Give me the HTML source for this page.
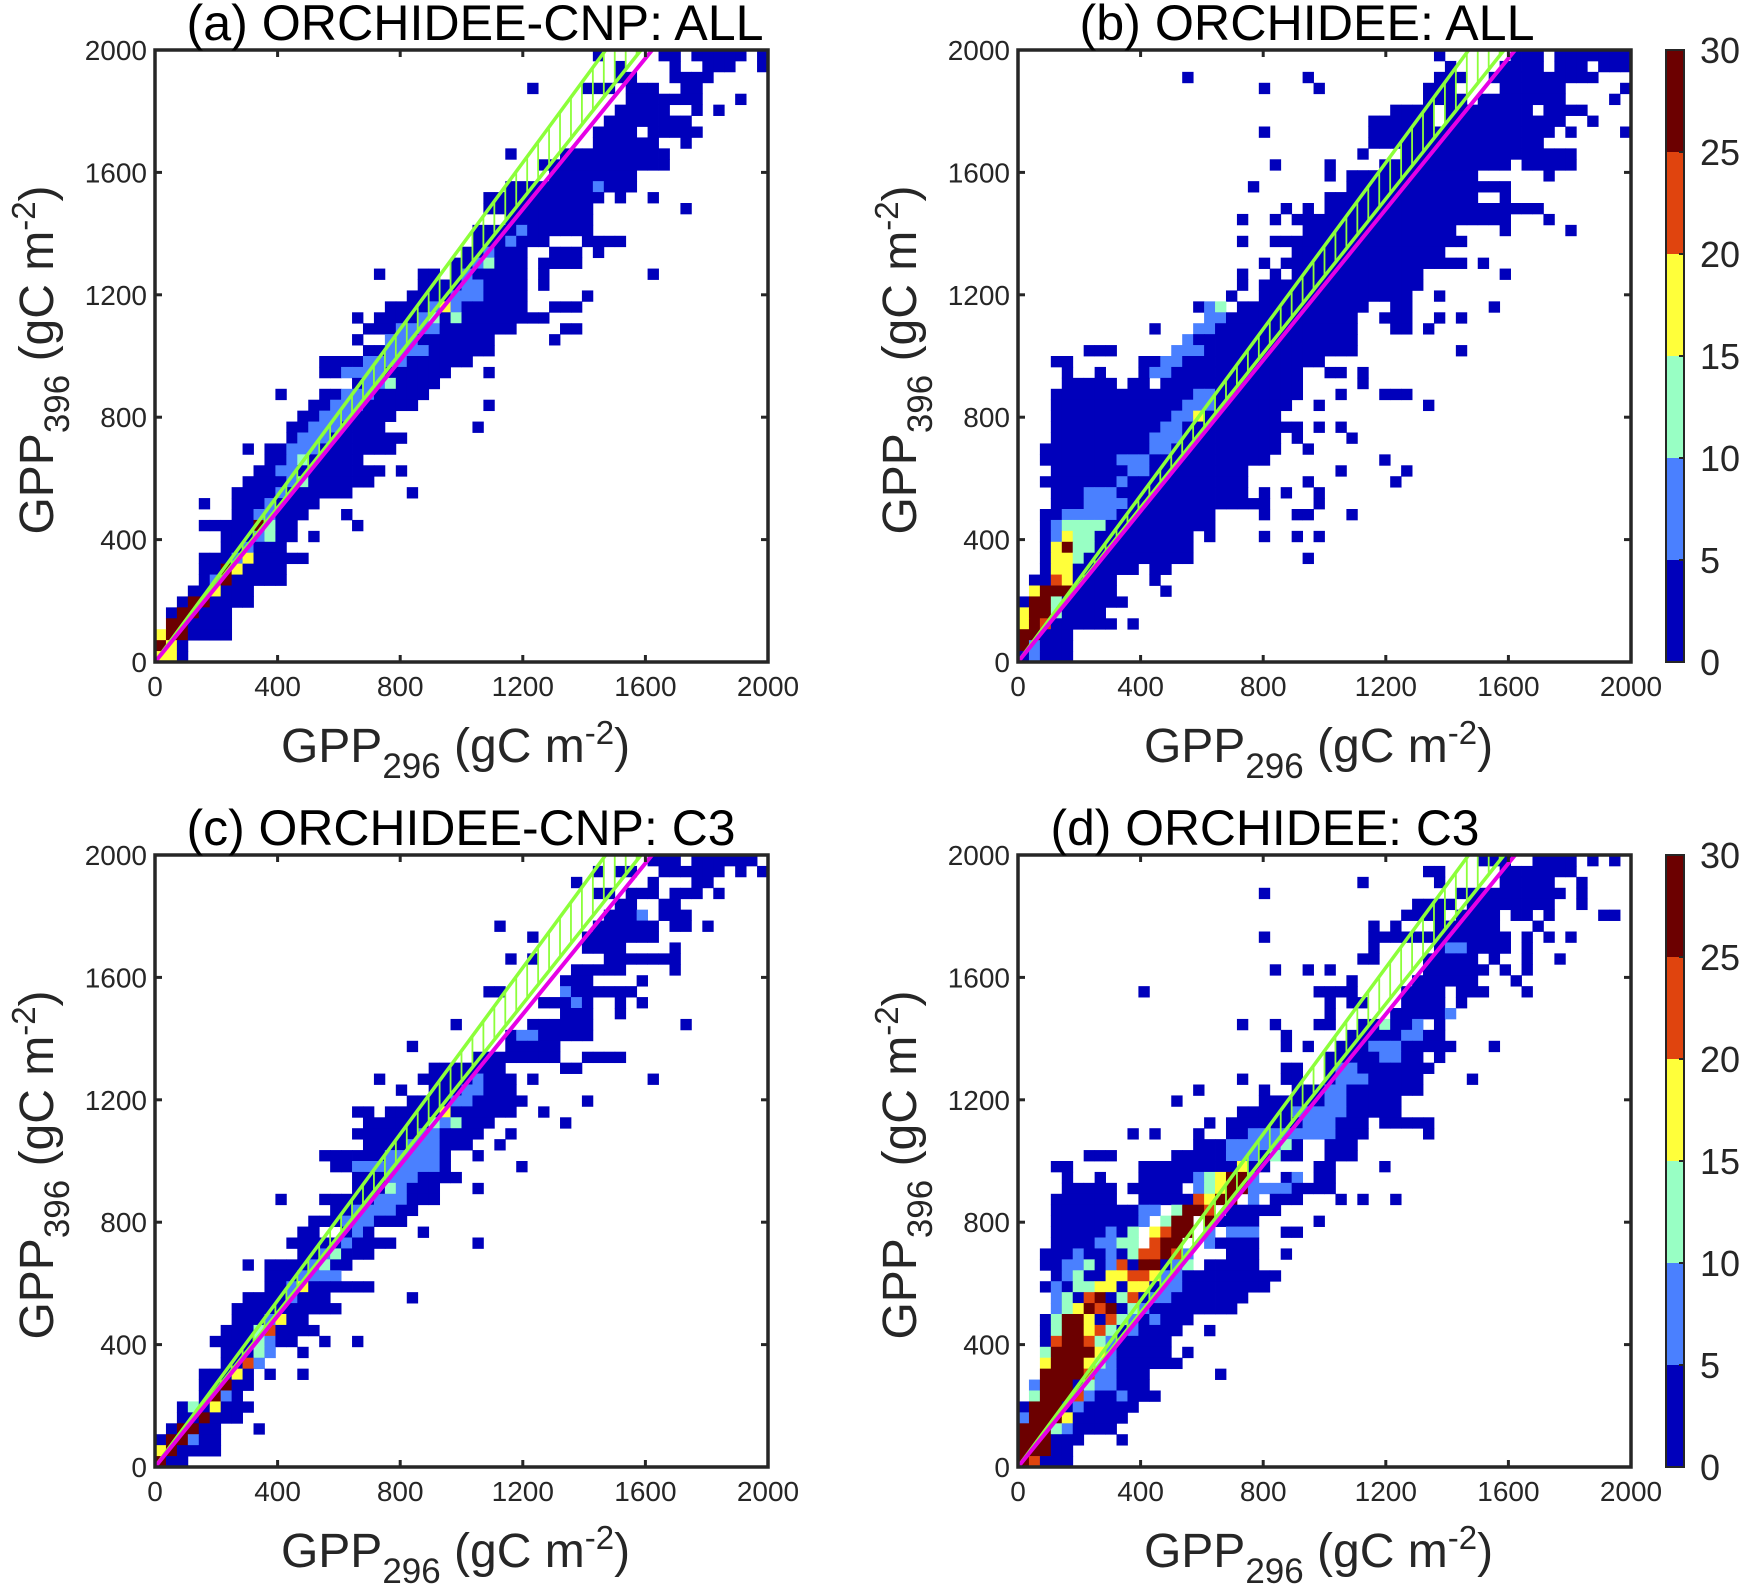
<!DOCTYPE html>
<html><head><meta charset="utf-8"><title>GPP scatter density</title>
<style>
html,body{margin:0;padding:0;background:#fff;}
svg{display:block;font-family:"Liberation Sans",Arial,sans-serif;}
</style></head>
<body>
<svg id="fig" width="1741" height="1591" viewBox="0 0 1741 1591" xmlns="http://www.w3.org/2000/svg"></svg>
<script>
// ---------- data ----------
const axisMax = 2000;
const nBins = 56;
const tickValues = [0, 400, 800, 1200, 1600, 2000];
const cbarTicks = [0, 5, 10, 15, 20, 25, 30];
const classColors = ['#ffffff', '#0000bb', '#4a80ff', '#98ffc4', '#ffff3a', '#e0440e', '#6c0000'];
const panelTitles = ['(a) ORCHIDEE-CNP: ALL', '(b) ORCHIDEE: ALL', '(c) ORCHIDEE-CNP: C3', '(d) ORCHIDEE: C3'];
// slope lines (GPP396 = slope * GPP296)
const magentaSlope = 1.233;
const greenLowSlope = 1.261;
const greenHighSlope = 1.36;

// rows from top (y=2000) to bottom; "start-end:class" segments (class 0-6)
const rowsA = [
"40:1,46-47:1,49-53:1,55:1","42:1,47:1,50-52:1,55:1","42-43:1,47-50:1","34:1,39-41:1,43-45:1,48-49:1",
"43-49:1,53:1","42-46:1,49:1,51:1","41-48:1","40-49:1,44:0","40-45:1,48:1","37-46:1,32:1",
"35-37:1,38-46:1","36-43:1","32-40:1,40:2,41-43:1","30-40:1,42:1,45:1","30-39:1,48:1","32-39:1",
"29-39:1,33:2","29-35:1,39-42:1,32:2","28-33:1,36-38:1,40:1,30:2","27-33:1,35-38:1,29:2,30:3",
"20:1,24-25:1,27-33:1,35:1,45:1,28:2","24-33:1,28-29:2,35:1","23-33:1,27-29:2,39:1","21-33:1,26:4,25:2,27:2,36:1,37-38:1",
"18:1,20-35:1,25:3,27:3,24:2","19-32:1,22-25:2,37-38:1","18:1,22-30:1,21-23:2,36:1","19-30:1,21-24:2",
"15-28:1,19-22:2","15-26:1,17-20:2,30:1","18-25:1,21:3,19-20:2","11:1,15-24:1,17-19:2",
"14-23:1,16-18:2,30:1","13-21:1,15-17:2","12-20:1,14-16:2,29:1","12-22:1,13-15:2",
"8:1,10-21:1,12-14:2","10-18:1,12:2,13:3","9-20:1,11-12:2,22:1","8-19:1,13:3,12:2",
"7-16:1,17:1,23:1,11:2","4:1,7-14:1,10:2","7-13:1,17:1,9-10:2","4-12:1,18:1,9:6,10:3",
"6-12:1,10:3,9:2,14:1","6-11:1,8:2","4-13:1,8:4,7:2","4-11:1,7:4,6:6",
"4-11:1,5:2,6:6","3-8:1,5:4","2-8:1,4:6,3:6","1-6:1,2-3:6",
"1-6:1,1-2:6","0-6:1,0:4,1-2:6","0-2:1,0:6,1:4","0-1:4,2:1"];

const rowsB = [
"38:1,45-47:1,49-55:1","39:1,44-47:1,49-55:1,52:0","15:1,26:1,38-40:1,43-51:1,52:1","22:1,27:1,37-39:1,44-49:1,55:1",
"37-40:1,42-49:1,54:1","34-37:1,39-51:1,47:0","32-37:1,39-49:1,52:1","22:1,32-35:1,36-48:1,50:1,55:1",
"32-34:1,35-47:1","31:1,35-50:1","23:1,28:1,33-44:1,46-50:1","28:1,30-41:1,48:1",
"21:1,30-44:1","28-41:1,44:1","24:1,26:1,28-47:1","20:1,23:1,25-44:1,48:1",
"26-39:1,44:1,50:1","20:1,23-25:1,26-40:1","25-38:1","22:1,24-40:1,42:1",
"20:1,23:1,25-36:1,44:1","20:1,22-36:1","19:1,22-35:1,38:1","16-18:1,20-31:1,34-35:1,43:1,17:2,18:3",
"17-30:1,33-35:1,38:1,40:1,17-18:2","12:1,16-30:1,34-35:1,37:1,16-17:2","16-30:1,15:2","6-8:1,14-30:1,40:1,14-16:2",
"3-4:1,11-27:1,13-14:2","4:1,7:1,11-25:1,28-29:1,31:1,12-13:2","4-8:1,10-25:1,31:1,12:0","3-25:1,29:1,33-35:1,16-17:2",
"3-24:1,27:1,37:1,15-17:2","3-23:1,14-15:2,16:4","3-23:1,24-25:1,27:1,29:1,13-14:2","3-23:1,25:1,30:1,12-14:2",
"2-23:1,26:1,12-13:2","2-22:1,9-11:2,33:1","3-20:1,10-11:2,29:1,35:1","2-20:1,9:2,26:1,34:1",
"3-20:1,6-8:2,22:1,24:1,27:1","3-20:1,6-9:2,21-22:1,27:1","2-17:1,4-8:2,22:1,25-26:1,30:1","2-17:1,3:2,4-7:3",
"2-15:1,3:2,4:4,5-6:3,17:1,22:1,25:1,27:1","2-15:1,3:4,4:6,5-6:3","2-15:1,3-4:4,5:3,26:1","2-10:1,3-4:4,12-13:1",
"1-8:1,3:5,4:4,12:1","1-8:1,1:4,2-4:6,13:1","0-8:1,1-2:6,3:3,9:1","0-7:1,0:4,1-2:6,3:3",
"0-8:1,0:4,1:6,2:5,10:1","0-4:1,0-1:6","0-4:1,0:6,1:2","0-4:1,1:2"];

const rowsC = [
"45-47:1,49-52:1,53-54:1","40:1,42-43:1,46-51:1,53:1,55:1","38:1,45:1,49-50:1","40-41:1,43-45:1,47-49:1,51:1",
"42-43:1,46-47:1","41-43:1,44:2,46:1,47-48:1","31:1,40-45:1,47-48:1,50:1","34:1,39-45:1",
"39-42:1,47:1","32:1,34:1,41-45:1,46-47:1","38-42:1,47:1","37-39:1,44:1",
"30-31:1,37-43:1,37:2","35-39:1,38:2,42:1,44:1","37-39:1,42:1","27:1,34-39:1,48:1",
"32-39:1,33-34:2","23:1,32-36:1","29-36:1,39-42:1","25-31:1,37-38:1",
"20:1,24-32:1,29:2,34:1,45:1","22:1,25-32:1,28-29:2","23-33:1,27-28:2,39:1","18-19:1,21-32:1,26:4,35:1",
"19-30:1,25:3,27:3,26:2,37:1","18-29:1,24-25:2,32:1","19-28:1,23-25:2,31:1","15-26:1,21-25:2,29:1",
"16-26:1,18-25:2,33:1","18-27:1,21-23:2","18-25:1,21:3,22:2,29:1","11:1,15-25:1,20-22:2",
"16-23:1,18-21:2","14-22:1,17-19:2","13-14:1,17-19:1,18:2,24:1","12-21:1,17:2,29:1",
"13-19:1,16:3,15:2","8:1,10-17:1,15:3,14:2","10-16:1,13-16:2","10-19:1,13:4,12:2",
"8-15:1,12:2,23:1","7-15:1,16:1","7-13:1,11:4,10:2","6-14:1,10:5,9:3",
"5-12:1,9:3,10:2,15:1,18:1","6-10:1,9:3,10:2,13:1","6-8:1,8:5,9:2","4-8:1,7:4,10:1,13:1",
"4-8:1,6:6","4-7:1,5:6,6:2","2-8:1,3:3,5:4","2-7:1,4:6",
"1-5:1,2-3:6,9:1","0-5:1,1:6,2:6,3:2","0-5:1,0:4,1:6","0-2:1,0:6"];

const rowsD = [
"42-44:1,47-50:1,52:1,54:1","37-38:1,44-50:1","31:1,38:1,44-48:1,51:1","22:1,40-43:1,44-49:1,51:1",
"36-39:1,41-48:1,51:1","35-38:1,40-43:1,45-46:1,48:1,53-54:1","32:1,34:1,38-43:1,47:1","22:1,32-43:1,44:1,46:1,48:1,50:1",
"32:1,38-41:1,39-40:2,42-44:1,46:1","31-32:1,37-41:1,43:1,46:1,49:1","23:1,26:1,28:1,37-41:1,42:1,44:1,46:1","30:1,36-41:1,45:1",
"11:1,27-30:1,35-38:1,40-42:1,46:1","28:1,30-31:1,35-38:1,40:1","28:1,34-38:1,39:2","20:1,23:1,27-28:1,31-32:1,33:3,34-36:1,36:2,38:1",
"24:1,30-38:1,35-36:2","24:1,26:1,29-38:1,32-34:2,39:1,43:1","28-36:1,33-34:2,38:1","24-25:1,28-37:1,29-30:2,36:1",
"20:1,24-25:1,28-36:1,29-31:2,41:1","16:1,22:1,25-36:1,28-29:2","14:1,22-34:1,28-29:2","20-34:1,25-29:2",
"17:1,19-31:1,26-28:2,33-37:1","10:1,12:1,16:1,19-31:1,21-28:2,37:1","16-25:1,19-24:2,24:3,28-30:1","6-8:1,14-25:1,19-21:2,23:3,28-30:1",
"3-4:1,11-14:1,15-22:1,20:4,27-28:1,33:1","4:1,7:1,11-17:1,16:2,17:3,18:4,19-20:6,21:2,24:1,25:2,27-28:1","4-8:1,10-14:1,16:2,17:3,18:4,19:6,20:6,21-24:2,25-28:1","3-8:1,11-15:1,16:5,17:4,18:6,19:6,21:2,23-25:1,29:1,31:1,34:1",
"3-11:1,11:2,12:2,14:3,15-16:6,17:5,19-23:1","3-10:1,11:2,13:3,14:6,15:6,17:6,18-21:1,27:1","3-10:1,8:2,10:3,12:4,13:5,14:6,15:6,17:2,19-21:2,24-25:1","3-10:1,7:2,8:2,9:3,10:3,12:5,13:6,14:6,17:2,18-21:1",
"2-10:1,5:2,8:2,10:3,11:5,12:5,13:6,14:5,15:2,19-21:1,24:1","2-15:1,4-5:2,6:3,8:2,9:5,11:6,12:6,14:2,15:3,17-21:1","3-23:1,4:2,5:3,8-9:4,10:5,11:5,12:4,13:2,14:2","2-22:1,3:2,5:3,6:3,7:4,8:4,10:4,11:4,13:2,14:2",
"3-20:1,3:2,4:3,6:5,7:6,9:3,10:5,12:2,13:2","3-19:1,3:2,4:3,5:4,6:6,7:5,8:6,10:3,11:2","2-15:1,3:3,4-5:6,6:4,8:5,9:3,10:2,12:2","2-14:1,3:3,4-5:6,6:4,7:5,8:3,10:2,17:1",
"2-13:1,3:5,4-5:6,6:5,7:3,8:2","2-13:1,2:3,3-5:6,6:6,7:4,8:2,15:1","2-14:1,2:4,3-5:6,6:4,7:3,8:2","2-11:1,2-5:6,6:5,7:2,8:2,18:1",
"1-11:1,1:2,2-4:6,6:3,7:2,8:2","1-12:1,1:3,2-4:6,5:5,6:2,9:2","0-10:1,1-3:6,5:2","0-9:1,0:2,1-3:6,4:4",
"0-8:1,0-2:6,3:3,4:2","0-5:1,0-2:6,9:1","0-4:1,0-2:6","0-4:1,0:6,1:5"];

const panelRows = [rowsA, rowsB, rowsC, rowsD];

// ---------- layout ----------
const SVGNS = 'http://www.w3.org/2000/svg';
const svg = document.getElementById('fig');
const panels = [
  {x: 155, y: 50, w: 613, h: 612},
  {x: 1018, y: 50, w: 613, h: 612},
  {x: 155, y: 855, w: 613, h: 612},
  {x: 1018, y: 855, w: 613, h: 612}
];
const titleLengths = [577, 455, 549, 429];
const titleCenters = [475, 1307, 461, 1265];
function mk(tag, attrs, parent) {
  const e = document.createElementNS(SVGNS, tag);
  for (const k in attrs) e.setAttribute(k, attrs[k]);
  (parent || svg).appendChild(e);
  return e;
}
function parseRow(str) {
  const cells = new Array(nBins).fill(0);
  if (!str) return cells;
  str.split(',').forEach(seg => {
    const [range, v] = seg.split(':');
    const parts = range.split('-').map(Number);
    const a = parts[0], b = parts.length > 1 ? parts[1] : parts[0];
    for (let c = a; c <= b; c++) if (c >= 0 && c < nBins) cells[c] = Number(v);
  });
  return cells;
}

panels.forEach((p, pi) => {
  const sx = v => p.x + v / axisMax * p.w;
  const sy = v => p.y + p.h - v / axisMax * p.h;
  const g = mk('g', {});
  
  
  const clipId = 'clip' + pi;
  const cp = mk('clipPath', {id: clipId}, g);
  mk('rect', {x: p.x, y: p.y, width: p.w, height: p.h}, cp);
  const plot = mk('g', {'clip-path': 'url(#' + clipId + ')'}, g);
  
  
  const binW = axisMax / nBins;
  panelRows[pi].forEach((rs, r) => {
    const cells = parseRow(rs);
    cells.forEach((v, c) => {
      if (!v) return;
      const x0 = sx(c * binW), x1 = sx((c + 1) * binW);
      const yTop = sy(axisMax - r * binW), yBot = sy(axisMax - (r + 1) * binW);
      const rect = mk('rect', {x: x0.toFixed(2), y: yTop.toFixed(2), width: (x1 - x0 + 0.4).toFixed(2), height: (yBot - yTop + 0.4).toFixed(2), fill: classColors[v]}, plot);
      
      
    });
  });
  // hatch between green lines
  for (let xv = binW; xv < axisMax; xv += binW) {
    const yl = xv * greenLowSlope, yh = xv * greenHighSlope;
    if (yl >= axisMax) break;
    const hl = mk('line', {x1: sx(xv), y1: sy(yl), x2: sx(xv), y2: sy(Math.min(yh, axisMax)), stroke: '#8cff3a', 'stroke-width': 1.8}, plot);
    
    
  }
  const gl1 = mk('line', {x1: sx(0), y1: sy(0), x2: sx(axisMax / greenHighSlope), y2: sy(axisMax), stroke: '#8cff3a', 'stroke-width': 3.5}, plot);
  
  
  const gl2 = mk('line', {x1: sx(0), y1: sy(0), x2: sx(axisMax / greenLowSlope), y2: sy(axisMax), stroke: '#8cff3a', 'stroke-width': 3.5}, plot);
  
  
  const ml = mk('line', {x1: sx(0), y1: sy(0), x2: sx(axisMax / magentaSlope), y2: sy(axisMax), stroke: '#e600e6', 'stroke-width': 4}, plot);
  
  
  // frame
  const fr = mk('rect', {x: p.x, y: p.y, width: p.w, height: p.h, fill: 'none', stroke: '#262626', 'stroke-width': 3.5}, g);
  
  
  // ticks
  tickValues.forEach(t => {
    const X = sx(t), Y = sy(t);
    mk('line', {x1: X, y1: p.y + p.h, x2: X, y2: p.y + p.h - 7, stroke: '#262626', 'stroke-width': 3}, g);
    mk('line', {x1: X, y1: p.y, x2: X, y2: p.y + 7, stroke: '#262626', 'stroke-width': 3}, g);
    mk('line', {x1: p.x, y1: Y, x2: p.x + 7, y2: Y, stroke: '#262626', 'stroke-width': 3}, g);
    mk('line', {x1: p.x + p.w, y1: Y, x2: p.x + p.w - 7, y2: Y, stroke: '#262626', 'stroke-width': 3}, g);
    const xl = mk('text', {x: X, y: p.y + p.h + 34, 'font-size': 28, 'text-anchor': 'middle', fill: '#262626'}, g);
    xl.textContent = t;
    
    
    const yl = mk('text', {x: p.x - 8, y: Y + 10, 'font-size': 28, 'text-anchor': 'end', fill: '#262626'}, g);
    yl.textContent = t;
    
    
  });
  // title
  const tt = mk('text', {x: titleCenters[pi], y: p.y - 10, 'font-size': 50, 'text-anchor': 'middle', fill: '#000', textLength: titleLengths[pi], lengthAdjust: 'spacingAndGlyphs'}, g);
  tt.textContent = panelTitles[pi];
  
  
  // x label
  const xlab = mk('text', {x: p.x + p.w / 2 - 6, y: p.y + p.h + 100, 'font-size': 48, 'text-anchor': 'middle', fill: '#262626'}, g);
  xlab.innerHTML = 'GPP<tspan font-size="35" dy="16">296</tspan><tspan dy="-16"> (gC m</tspan><tspan font-size="33" dy="-18">-2</tspan><tspan dy="18">)</tspan>';
  
  
  // y label
  const ylab = mk('text', {x: 0, y: 0, 'font-size': 48, 'text-anchor': 'middle', fill: '#262626', transform: 'translate(' + (p.x - 102) + ',' + (p.y + p.h / 2 + 4) + ') rotate(-90)'}, g);
  ylab.innerHTML = 'GPP<tspan font-size="35" dy="16">396</tspan><tspan dy="-16"> (gC m</tspan><tspan font-size="33" dy="-18">-2</tspan><tspan dy="18">)</tspan>';
  
  
});

// colorbars
[panels[1], panels[3]].forEach((p, ci) => {
  const cx = 1666, cw = 18;
  const g = mk('g', {});
  
  
  const maxC = cbarTicks[cbarTicks.length - 1];
  const cy = v => p.y + p.h - v / maxC * p.h;
  for (let i = 0; i < cbarTicks.length - 1; i++) {
    const r = mk('rect', {x: cx, y: cy(cbarTicks[i + 1]), width: cw, height: cy(cbarTicks[i]) - cy(cbarTicks[i + 1]), fill: classColors[i + 1]}, g);
    
    
  }
  mk('rect', {x: cx, y: p.y, width: cw, height: p.h, fill: 'none', stroke: '#262626', 'stroke-width': 2}, g);
  cbarTicks.forEach(t => {
    mk('line', {x1: cx + cw, y1: cy(t), x2: cx + cw - 5, y2: cy(t), stroke: '#262626', 'stroke-width': 2}, g);
    const lb = mk('text', {x: 1700, y: cy(t) + 13, 'font-size': 36, fill: '#262626'}, g);
    lb.textContent = t;
    
    
  });
});
</script>
</body></html>
